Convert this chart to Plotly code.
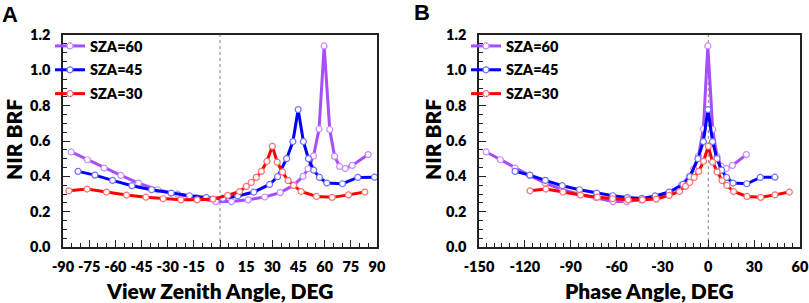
import plotly.graph_objects as go

# ---------------- data ----------------
series_names = ["SZA=60", "SZA=45", "SZA=30"]
sza_values = [60, 45, 30]

vza_60 = [-85.3, -76.0, -66.4, -56.8, -46.7, -35.7, -24.3, -13.5, -2.4, 6.6, 16.1, 25.6,
          34.5, 42.3, 47.6, 50.5, 53.6, 56.8, 59.7, 62.9, 65.7, 68.6, 71.8, 75.8, 84.9]
brf_60 = [0.538, 0.494, 0.447, 0.405, 0.362, 0.324, 0.299, 0.280, 0.257, 0.257, 0.267, 0.283,
          0.308, 0.350, 0.400, 0.443, 0.515, 0.668, 1.138, 0.665, 0.513, 0.456, 0.444, 0.462, 0.523]

vza_45 = [-81.4, -71.7, -61.6, -50.5, -39.2, -28.0, -17.5, -7.9, 1.6, 10.2, 19.4, 28.4,
          33.0, 38.2, 41.8, 44.8, 47.8, 50.7, 53.7, 57.0, 61.2, 70.2, 79.0, 88.6]
brf_45 = [0.428, 0.407, 0.377, 0.347, 0.324, 0.305, 0.290, 0.280, 0.275, 0.289, 0.311, 0.354,
          0.398, 0.500, 0.597, 0.778, 0.597, 0.500, 0.435, 0.394, 0.362, 0.358, 0.394, 0.395]

vza_30 = [-86.6, -76.2, -65.1, -53.6, -42.5, -32.6, -22.4, -13.1, -4.0, 4.4, 11.2, 15.1, 17.9,
          20.8, 23.7, 26.9, 30.0, 32.8, 35.8, 39.0, 42.2, 46.5, 55.3, 64.3, 73.6, 83.0]
brf_30 = [0.318, 0.328, 0.311, 0.294, 0.282, 0.273, 0.267, 0.267, 0.271, 0.292, 0.314, 0.343, 0.365,
          0.394, 0.428, 0.485, 0.570, 0.480, 0.425, 0.376, 0.348, 0.314, 0.286, 0.281, 0.295, 0.311]

vza_list = [vza_60, vza_45, vza_30]
brf_list = [brf_60, brf_45, brf_30]

vza_ticks = [-90, -75, -60, -45, -30, -15, 0, 15, 30, 45, 60, 75, 90]
vza_ticktext = ["-90", "-75", "-60", "-45", "-30", "-15", "0", "15", "30", "45", "60", "75", "90"]
phase_ticks = [-150, -120, -90, -60, -30, 0, 30, 60]
phase_ticktext = ["-150", "-120", "-90", "-60", "-30", "0", "30", "60"]
brf_ticks = [0.0, 0.2, 0.4, 0.6, 0.8, 1.0, 1.2]
brf_ticktext = ["0.0", "0.2", "0.4", "0.6", "0.8", "1.0", "1.2"]

# ---------------- styles ----------------
line_colors = ["#A64DFF", "#0000FF", "#FF0000"]
marker_colors = ["#C58CFF", "#7070FF", "#FF7070"]
FONT = "Lato"
WEIGHT = 800
W, H = 809, 303

fig = go.Figure()

for i in range(3):
    phase = [v - sza_values[i] for v in vza_list[i]]
    common = dict(
        mode="lines+markers",
        name=series_names[i],
        legendgroup=series_names[i],
        line=dict(color=line_colors[i], width=3),
        marker=dict(symbol="circle", size=6, color="white",
                    line=dict(color=marker_colors[i], width=1.2)),
    )
    fig.add_trace(go.Scatter(x=vza_list[i], y=brf_list[i], xaxis="x", yaxis="y",
                             legend="legend", **common))
    fig.add_trace(go.Scatter(x=phase, y=brf_list[i], xaxis="x2", yaxis="y2",
                             legend="legend2", **common))

tickfont = dict(family=FONT, size=14.5, color="black", weight=WEIGHT)
axis_common = dict(
    showline=True, linecolor="#222", linewidth=1.5, mirror=True,
    ticks="inside", ticklen=7, tickwidth=1.2, tickcolor="#222",
    showgrid=False, zeroline=False, tickfont=tickfont, automargin=False,
)
minor_x = dict(ticks="inside", ticklen=4, tickwidth=1, tickcolor="#222", dtick=5, showgrid=False)
minor_y = dict(ticks="inside", ticklen=4, tickwidth=1, tickcolor="#222", dtick=0.05, showgrid=False)

ydom = [(H - 247) / H, (H - 35) / H]
legend_font = dict(family=FONT, size=14.5, color="black", weight=WEIGHT)

fig.update_layout(
    width=W, height=H, autosize=False,
    margin=dict(l=0, r=0, t=0, b=0, pad=0),
    paper_bgcolor="white", plot_bgcolor="white",
    xaxis=dict(domain=[63 / W, 377 / W], range=[-90, 90], tickvals=vza_ticks,
               ticktext=vza_ticktext, tickangle=0,
               anchor="y", minor=minor_x, ticklabelstandoff=6, **axis_common),
    yaxis=dict(domain=ydom, range=[0, 1.2], tickvals=brf_ticks, ticktext=brf_ticktext,
               anchor="x", minor=minor_y, ticklabelstandoff=8, **axis_common),
    xaxis2=dict(domain=[479 / W, 800 / W], range=[-150, 60], tickvals=phase_ticks,
                ticktext=phase_ticktext, tickangle=0,
                anchor="y2", minor=minor_x, ticklabelstandoff=6, **axis_common),
    yaxis2=dict(domain=ydom, range=[0, 1.2], tickvals=brf_ticks, ticktext=brf_ticktext,
                anchor="x2", minor=minor_y, ticklabelstandoff=8, **axis_common),
    legend=dict(x=50 / W, y=1 - 30 / H, xanchor="left", yanchor="top",
                bgcolor="rgba(0,0,0,0)", tracegroupgap=2, itemwidth=30, font=legend_font),
    legend2=dict(x=466 / W, y=1 - 30 / H, xanchor="left", yanchor="top",
                 bgcolor="rgba(0,0,0,0)", tracegroupgap=2, itemwidth=30, font=legend_font),
)

# vertical dotted reference lines at zero
for xr, yr in [("x", "y domain"), ("x2", "y2 domain")]:
    fig.add_shape(type="line", xref=xr, yref=yr, x0=0, x1=0, y0=0, y1=1,
                  line=dict(color="#888", width=1, dash="dot"), layer="below")

title_font = dict(family=FONT, size=21, color="black", weight=WEIGHT)
ytitle_font = dict(family=FONT, size=21, color="black", weight=WEIGHT)
panel_font = dict(family="Liberation Sans", size=22, color="black", weight="bold")
ann = [
    dict(text="A", x=10 / W, y=1 - 14 / H, font=panel_font),
    dict(text="B", x=422 / W, y=1 - 12 / H, font=panel_font),
    dict(text="NIR BRF", x=13 / W, y=1 - 140 / H, textangle=-90, font=ytitle_font),
    dict(text="NIR BRF", x=432 / W, y=1 - 140 / H, textangle=-90, font=ytitle_font),
    dict(text="View Zenith Angle, DEG", x=219 / W, y=1 - 290 / H, font=title_font),
    dict(text="Phase Angle, DEG", x=649 / W, y=1 - 290 / H, font=title_font),
]
for a in ann:
    fig.add_annotation(xref="paper", yref="paper", showarrow=False,
                       xanchor="center", yanchor="middle", borderpad=0, **a)

fig.write_html("out.html", config={"displayModeBar": False},
               post_script="document.body.style.margin='0px';document.body.style.overflow='hidden';")
